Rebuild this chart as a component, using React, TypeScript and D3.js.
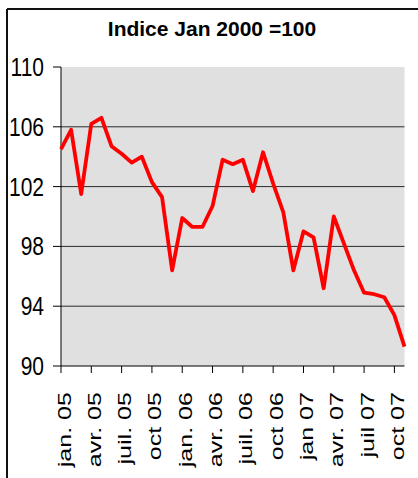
import React from "react";
import * as d3 from "d3";

const months: string[] = [
  "jan05","feb05","mar05","apr05","may05","jun05","jul05","aug05","sep05","oct05","nov05","dec05",
  "jan06","feb06","mar06","apr06","may06","jun06","jul06","aug06","sep06","oct06","nov06","dec06",
  "jan07","feb07","mar07","apr07","may07","jun07","jul07","aug07","sep07","oct07","nov07",
];
const values: number[] = [
  104.5, 105.8, 101.5, 106.2, 106.6, 104.7, 104.2, 103.6, 104.0, 102.3, 101.3, 96.4,
  99.9, 99.3, 99.3, 100.7, 103.8, 103.5, 103.8, 101.7, 104.3, 102.2, 100.3, 96.4,
  99.0, 98.6, 95.2, 100.0, 98.2, 96.4, 94.9, 94.8, 94.6, 93.4, 91.3,
];
const tickLabels: string[] = [
  "jan. 05","avr. 05","juil. 05","oct 05","jan. 06","avr. 06",
  "juil. 06","oct 06","jan 07","avr. 07","juil 07","oct 07",
];
const yTicks: number[] = [90, 94, 98, 102, 106, 110];
const title = "Indice Jan 2000 =100";

export default function App() {
  const left = 61, right = 404.5, top = 67, bottom = 366;
  const x = d3.scaleLinear().domain([0, months.length - 1]).range([left, right]);
  const y = d3.scaleLinear().domain([90, 110]).range([bottom, top]);
  const line = d3.line<number>().x((_, i) => x(i)).y((d) => y(d));
  const font = "'Liberation Sans', Arial, sans-serif";
  return (
    <svg width={418} height={478} style={{ position: "absolute", left: 0, top: 0, background: "#fff" }}>
      <line x1={7} y1={9} x2={418} y2={9} stroke="#111" strokeWidth={2} />
      <line x1={7} y1={9} x2={7} y2={478} stroke="#111" strokeWidth={2} />
      <text x={212} y={36} textAnchor="middle" fontFamily={font} fontWeight="bold" fontSize={21} fill="#000">{title}</text>
      <rect x={left} y={top} width={right - left} height={bottom - top} fill="#e0e0e0" />
      {yTicks.filter((t) => t > 90 && t < 110).map((t) => (
        <line key={"g" + t} x1={left} x2={right} y1={y(t)} y2={y(t)} stroke="#2a2a2a" strokeWidth={1} />
      ))}
      <line x1={left} y1={top} x2={left} y2={bottom} stroke="#000" strokeWidth={1} />
      <line x1={left} y1={bottom} x2={right} y2={bottom} stroke="#000" strokeWidth={1} />
      {yTicks.map((t) => (
        <g key={"y" + t}>
          <line x1={53} x2={left} y1={y(t)} y2={y(t)} stroke="#000" strokeWidth={1} />
          <text transform={`translate(44,${y(t) + 9}) scale(1,1.2)`} textAnchor="end" fontFamily={font} fontSize={21} fill="#000">{t}</text>
        </g>
      ))}
      {tickLabels.map((lab, k) => {
        const xi = x(k * 3);
        return (
          <g key={"x" + k}>
            <line x1={xi} x2={xi} y1={bottom} y2={bottom + 7} stroke="#000" strokeWidth={1} />
            <text transform={`translate(${xi + 9.5},392) rotate(-90) scale(1.32,1)`} textAnchor="end" fontFamily={font} fontSize={19} fill="#000">{lab}</text>
          </g>
        );
      })}
      <path d={line(values) || ""} fill="none" stroke="#ff0000" strokeWidth={3.8} strokeLinejoin="round" />
    </svg>
  );
}
